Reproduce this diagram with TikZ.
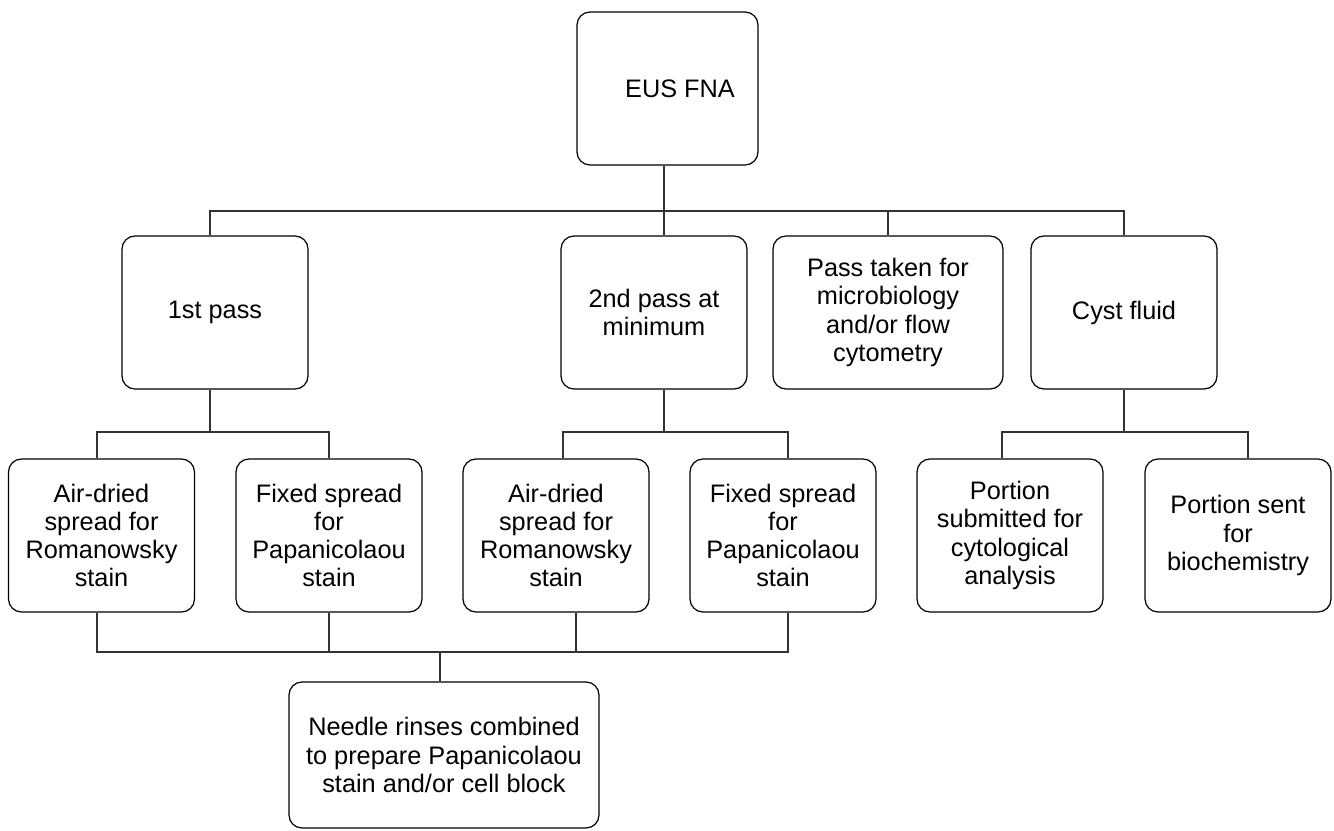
\documentclass[tikz,border=0pt]{standalone}
\usepackage{fontspec}
\setmainfont{Liberation Sans}
\usepackage{tikz}
\usetikzlibrary{calc}

\begin{document}
\begin{tikzpicture}[
  box/.style={draw, rounded corners=0.26cm, align=center, line width=0.7pt, inner sep=0pt, minimum width=3.72cm, minimum height=3.06cm, font=\fontsize{14.4}{16.1}\selectfont},
  link/.style={line width=0.7pt, draw=black!80}
]
\useasboundingbox (0,0) rectangle (26.68,-16.6);

\path (13.35,-1.77) node[box, minimum width=3.62cm](eus-fna) {\hspace*{0.5cm}EUS FNA};

\path (4.30,-6.25) node[box](first-pass) {1st pass};
\path (13.08,-6.25) node[box](second-pass) {2nd pass at\\minimum};
\path (17.76,-6.25) node[box, minimum width=4.6cm](micro-pass) {Pass taken for\\microbiology\\and/or flow\\cytometry};
\path (22.48,-6.25) node[box](cyst-fluid) {Cyst fluid};

\path (2.03,-10.71) node[box](air-dried-1) {Air-dried\\spread for\\Romanowsky\\stain};
\path (6.58,-10.71) node[box](fixed-spread-1) {Fixed spread\\for\\Papanicolaou\\stain};
\path (11.12,-10.71) node[box](air-dried-2) {Air-dried\\spread for\\Romanowsky\\stain};
\path (15.66,-10.71) node[box](fixed-spread-2) {Fixed spread\\for\\Papanicolaou\\stain};
\path (20.20,-10.71) node[box](portion-cyto) {Portion\\submitted for\\cytological\\analysis};
\path (24.76,-10.71) node[box](portion-biochem) {Portion sent\\for\\biochemistry};

\path (8.88,-15.10) node[box, minimum width=6.2cm, minimum height=2.92cm](needle-rinses) {Needle rinses combined\\to prepare Papanicolaou\\stain and/or cell block};

% bus lines
\coordinate (top-bus) at (0,-4.22);
\coordinate (pass-bus) at (0,-8.64);
\coordinate (spread-bus) at (0,-13.04);

\draw[link] ([xshift=-0.07cm]eus-fna.south) -- ([xshift=-0.07cm]eus-fna.south |- second-pass.north);
\draw[link] ([xshift=-0.1cm]first-pass.north) |- (cyst-fluid.north |- top-bus) -- (cyst-fluid.north);
\draw[link] (micro-pass.north) -- (micro-pass.north |- top-bus);

\draw[link] ([xshift=-0.1cm]first-pass.south) -- ([xshift=-0.1cm]first-pass.south |- pass-bus);
\draw[link] ([xshift=-0.09cm]air-dried-1.north) |- (fixed-spread-1.north |- pass-bus) -- (fixed-spread-1.north);

\draw[link] ([xshift=-0.07cm]eus-fna.south |- second-pass.south) -- ([xshift=-0.07cm]eus-fna.south |- pass-bus);
\draw[link] ([xshift=0.14cm]air-dried-2.north) |- ([xshift=0.1cm]fixed-spread-2.north |- pass-bus) -- ([xshift=0.1cm]fixed-spread-2.north);

\draw[link] (cyst-fluid.south) -- (cyst-fluid.south |- pass-bus);
\draw[link] ([xshift=-0.16cm]portion-cyto.north) |- ([xshift=0.2cm]portion-biochem.north |- pass-bus) -- ([xshift=0.2cm]portion-biochem.north);

\draw[link] ([xshift=-0.09cm]air-dried-1.south) |- ([xshift=0.1cm]fixed-spread-2.south |- spread-bus) -- ([xshift=0.1cm]fixed-spread-2.south);
\draw[link] (fixed-spread-1.south) -- (fixed-spread-1.south |- spread-bus);
\draw[link] ([xshift=0.4cm]air-dried-2.south) -- ([xshift=0.4cm]air-dried-2.south |- spread-bus);
\draw[link] ([xshift=-0.08cm]needle-rinses.north) -- ([xshift=-0.08cm]needle-rinses.north |- spread-bus);

\end{tikzpicture}
\end{document}
